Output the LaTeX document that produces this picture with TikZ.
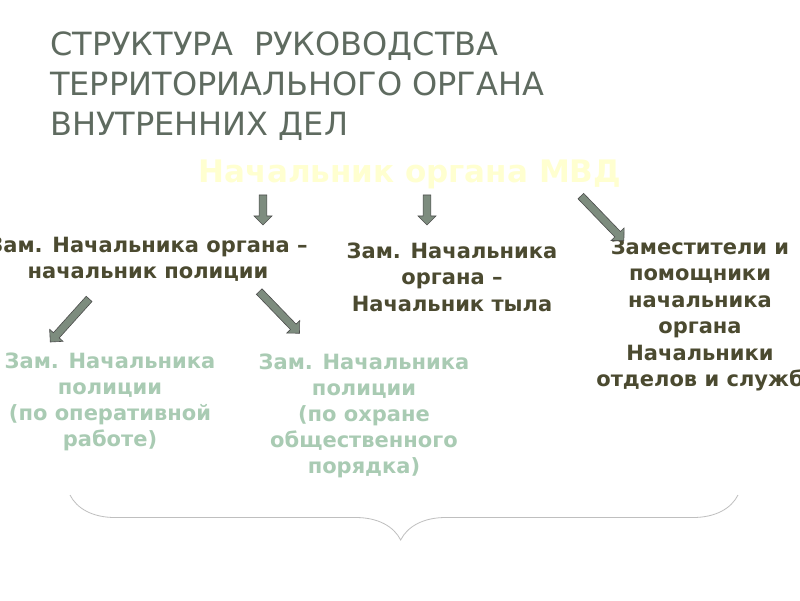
\documentclass[tikz,border=0pt]{standalone}
\usepackage{fontspec}
\setmainfont{DejaVu Sans}
\usetikzlibrary{shapes.arrows,decorations.pathreplacing}
\definecolor{ttl}{HTML}{5F6B60}
\definecolor{dk}{HTML}{4B4A30}
\definecolor{lg}{HTML}{A9CBB3}
\definecolor{py}{HTML}{FFFFD0}
\definecolor{ag}{HTML}{7D8C7E}
\begin{document}
\begin{tikzpicture}[x=1pt,y=-1pt,
 lbl/.style={font=\fontsize{21}{26.5}\selectfont\bfseries,align=center,text=dk,inner sep=0},
 sub/.style={font=\fontsize{21}{26}\selectfont\bfseries,align=center,text=lg,inner sep=0},
 ttlstyle/.style={font=\fontsize{32}{40}\selectfont,align=left,text=ttl,anchor=north west,inner sep=0},
 fat/.style={single arrow,draw=black!70,fill=ag,minimum width=18pt,single arrow head extend=3pt,inner sep=2pt,anchor=center,line width=0.6pt}]
\useasboundingbox (0,0) rectangle (800,600);
\fill[white] (0,0) rectangle (800,600);
\node[ttlstyle] (t) at (50,32) {СТРУКТУРА \ РУКОВОДСТВА\\ТЕРРИТОРИАЛЬНОГО ОРГАНА\\ВНУТРЕННИХ ДЕЛ};
\node[font=\fontsize{31}{34}\selectfont\bfseries,text=py,inner sep=0] (boss) at (410,174) {Начальник органа МВД};
\node[lbl] (a) at (148,259) {Зам. Начальника органа –\\начальник полиции};
\node[lbl] (b) at (452,277) {Зам. Начальника\\органа –\\Начальник тыла};
\node[lbl] (c) at (700,315) {Заместители и\\помощники\\начальника\\органа\\Начальники\\отделов и служб};
\node[sub] (d) at (110,402) {Зам. Начальника\\полиции\\(по оперативной\\работе)};
\node[sub] (e) at (364,416) {Зам. Начальника\\полиции\\(по охране\\общественного\\порядка)};
\node[fat,minimum height=30pt,rotate=-90] (f1) at (263,208) {};
\node[fat,minimum height=30pt,rotate=-90] (f2) at (427,208) {};
\node[fat,minimum height=62pt,rotate=-46] (f3) at (601,217) {};
\node[fat,minimum height=58pt,rotate=-132] (f4) at (71,319) {};
\node[fat,minimum height=58pt,rotate=-46] (f5) at (278,311) {};
\coordinate (bl) at (70,495);
\coordinate (br) at (738,495);
\draw[black!25,line width=0.8pt,decorate,decoration={brace,mirror,amplitude=45pt,aspect=0.495}] (bl) -- (br);
\end{tikzpicture}
\end{document}
